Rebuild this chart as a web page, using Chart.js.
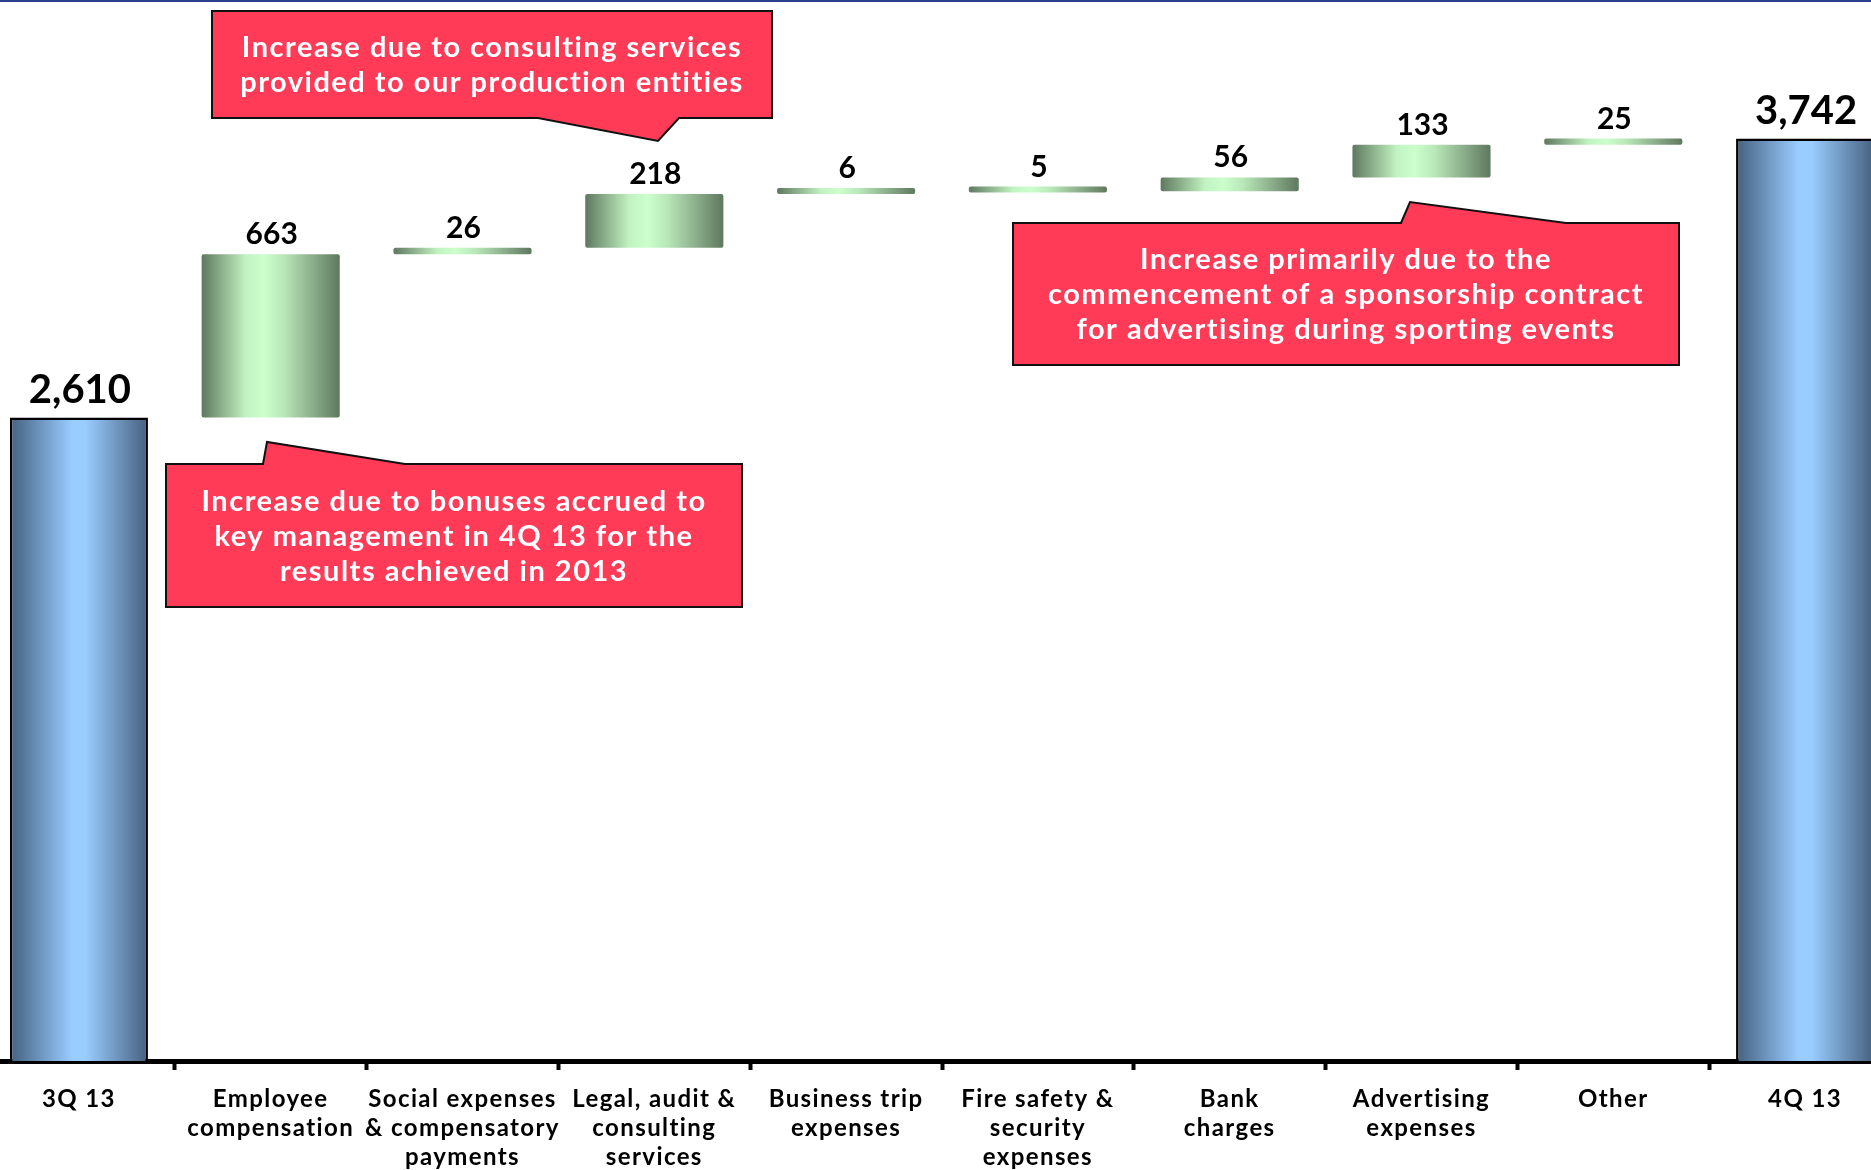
<!DOCTYPE html>
<html>
<head>
<meta charset="utf-8">
<title>Administrative expenses 3Q 13 - 4Q 13</title>
<script src="https://cdn.jsdelivr.net/npm/chart.js@4/dist/chart.umd.min.js"></script>
<style>
  html, body { margin: 0; padding: 0; background: #fff; overflow: hidden; }
  body { width: 1871px; height: 1170px; position: relative; }
  .top-rule { position: absolute; left: 0; top: 0; width: 100%; height: 2px; background: #2b3d8f; z-index: 2; }
  .chart-box { position: absolute; left: -17px; top: 0; width: 1918px; height: 1170px; }
</style>
</head>
<body>
<div class="top-rule"></div>
<div class="chart-box"><canvas id="bridgeChart" width="1918" height="1170"></canvas></div>
<script>
// Puente de gastos administrativos: 3Q 13 -> 4Q 13

const categorias = [
    ['3Q 13'],
    ['Employee', 'compensation'],
    ['Social expenses', '& compensatory', 'payments'],
    ['Legal, audit &', 'consulting', 'services'],
    ['Business trip', 'expenses'],
    ['Fire safety &', 'security', 'expenses'],
    ['Bank', 'charges'],
    ['Advertising', 'expenses'],
    ['Other'],
    ['4Q 13']
];

const saldoInicial = 2610;
const variaciones = [663, 26, 218, 6, 5, 56, 133, 25];
const saldoFinal = 3742;

// Notas explicativas (coordenadas del canvas)
const notas = [
    {
        lineas: ['Increase due to consulting services', 'provided to our production entities'],
        caja: [229, 11, 789, 118],
        cola: { lado: 'bottom', a: 555, punta: [675, 141], b: 696 }
    },
    {
        lineas: ['Increase due to bonuses accrued to', 'key management in 4Q 13 for the', 'results achieved in 2013'],
        caja: [183, 464, 759, 607],
        cola: { lado: 'top', a: 280, punta: [284, 442], b: 422 }
    },
    {
        lineas: ['Increase primarily due to the', 'commencement of a sponsorship contract', 'for advertising during sporting events'],
        caja: [1030, 223, 1696, 365],
        cola: { lado: 'top', a: 1418, punta: [1427, 202], b: 1583 }
    }
];

// Barras flotantes [desde, hasta]
const barras = [[0, saldoInicial]];
let acumulado = saldoInicial;
variaciones.forEach(v => {
    barras.push([acumulado, acumulado + v]);
    acumulado += v;
});
barras.push([0, saldoFinal]);

const valores = [saldoInicial, ...variaciones, saldoFinal];
const esTotal = i => i === 0 || i === valores.length - 1;

const FUENTE = 'Lato, "Century Gothic", "DejaVu Sans", sans-serif';
const ANCHO_BARRA = 0.72;

function degradado(context) {
    const chart = context.chart;
    const i = context.dataIndex;
    const x = chart.scales.x;
    if (!chart.chartArea || !x) return esTotal(i) ? '#7fa8d8' : '#a8d8a8';
    const ancho = x.width / categorias.length * ANCHO_BARRA;
    const centro = x.getPixelForValue(i);
    const g = chart.ctx.createLinearGradient(centro - ancho / 2, 0, centro + ancho / 2, 0);
    if (esTotal(i)) {
        g.addColorStop(0, '#44607f');
        g.addColorStop(0.45, '#99ccff');
        g.addColorStop(0.55, '#99ccff');
        g.addColorStop(1, '#46607e');
    } else {
        g.addColorStop(0, '#5f785f');
        g.addColorStop(0.32, '#c2f2c2');
        g.addColorStop(0.45, '#ccffcc');
        g.addColorStop(0.6, '#b8e6b8');
        g.addColorStop(1, '#5f785f');
    }
    return g;
}

// Espaciado de letras para los rótulos del eje (fuente de reemplazo más estrecha)
const espaciado = {
    id: 'espaciado',
    beforeDraw(chart) { chart.ctx.letterSpacing = '1.4px'; },
    beforeDatasetsDraw(chart) { chart.ctx.letterSpacing = '0px'; }
};

// Etiquetas de valor encima de cada barra
const etiquetasValor = {
    id: 'etiquetasValor',
    afterDatasetsDraw(chart) {
        const ctx = chart.ctx;
        const meta = chart.getDatasetMeta(0);
        ctx.save();
        ctx.fillStyle = '#000';
        ctx.textAlign = 'center';
        ctx.textBaseline = 'alphabetic';
        meta.data.forEach((bar, i) => {
            const total = esTotal(i);
            ctx.font = (total ? '700 40px ' : '700 30px ') + FUENTE;
            const arriba = Math.min(bar.y, bar.base);
            ctx.fillText(valores[i].toLocaleString('en-US'), bar.x + 1, arriba - (total ? 15 : 10));
        });
        ctx.restore();
    }
};

// Recuadros rojos con su flecha
const recuadros = {
    id: 'recuadros',
    afterDraw(chart) {
        const ctx = chart.ctx;
        ctx.save();
        notas.forEach(n => {
            const [x0, y0, x1, y1] = n.caja;
            const c = n.cola;
            ctx.beginPath();
            if (c.lado === 'top') {
                ctx.moveTo(x0, y0);
                ctx.lineTo(c.a, y0);
                ctx.lineTo(c.punta[0], c.punta[1]);
                ctx.lineTo(c.b, y0);
                ctx.lineTo(x1, y0);
                ctx.lineTo(x1, y1);
                ctx.lineTo(x0, y1);
            } else {
                ctx.moveTo(x0, y0);
                ctx.lineTo(x1, y0);
                ctx.lineTo(x1, y1);
                ctx.lineTo(c.b, y1);
                ctx.lineTo(c.punta[0], c.punta[1]);
                ctx.lineTo(c.a, y1);
                ctx.lineTo(x0, y1);
            }
            ctx.closePath();
            ctx.fillStyle = '#ff3b57';
            ctx.fill();
            ctx.lineWidth = 2;
            ctx.strokeStyle = '#111';
            ctx.stroke();

            ctx.fillStyle = '#fff';
            ctx.font = '700 29px ' + FUENTE;
            ctx.letterSpacing = '1.5px';
            ctx.textAlign = 'center';
            ctx.textBaseline = 'middle';
            const alto = 35;
            const cx = (x0 + x1) / 2;
            const cy = (y0 + y1) / 2 + 1;
            n.lineas.forEach((t, k) => {
                ctx.fillText(t, cx, cy + (k - (n.lineas.length - 1) / 2) * alto);
            });
            ctx.letterSpacing = '0px';
        });
        ctx.restore();
    }
};

document.addEventListener('DOMContentLoaded', () => {
    const ctx = document.getElementById('bridgeChart').getContext('2d');
    new Chart(ctx, {
        type: 'bar',
        data: {
            labels: categorias,
            datasets: [{
                data: barras,
                backgroundColor: degradado,
                borderColor: '#000',
                borderWidth: c => esTotal(c.dataIndex) ? 2.5 : 0,
                borderRadius: c => esTotal(c.dataIndex) ? 0 : 2,
                borderSkipped: c => esTotal(c.dataIndex) ? 'start' : false,
                minBarLength: 6,
                barPercentage: ANCHO_BARRA,
                categoryPercentage: 1
            }]
        },
        options: {
            responsive: false,
            devicePixelRatio: 1,
            animation: false,
            layout: { padding: 0 },
            plugins: {
                legend: { display: false },
                title: { display: false },
                tooltip: { enabled: false }
            },
            scales: {
                y: {
                    display: false,
                    min: 0,
                    max: 4304
                },
                x: {
                    afterFit: scale => { scale.height = 109; },
                    border: { display: true, color: '#000', width: 5 },
                    grid: {
                        display: true,
                        drawOnChartArea: false,
                        drawTicks: true,
                        tickLength: 9,
                        tickWidth: 4,
                        tickColor: '#000',
                        offset: true
                    },
                    ticks: {
                        color: '#000',
                        padding: 15,
                        maxRotation: 0,
                        autoSkip: false,
                        font: { family: FUENTE, size: 24, weight: '700', lineHeight: 1.2 }
                    }
                }
            }
        },
        plugins: [espaciado, etiquetasValor, recuadros]
    });
});
</script>
</body>
</html>
